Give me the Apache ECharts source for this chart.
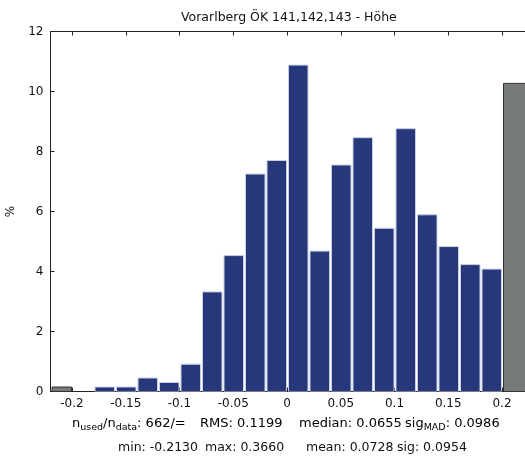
<!DOCTYPE html>
<html>
<head>
<meta charset="utf-8">
<script src="https://cdn.jsdelivr.net/npm/echarts@6/dist/echarts.min.js"></script>
<style>
  html, body { margin: 0; padding: 0; background: #fff; }
  #main { width: 525px; height: 457px; }
</style>
</head>
<body>
<div id="main"></div>
<script>
// Histogramm: linke Klassengrenzen und Anteile in %
var binLeft = [-0.18, -0.16, -0.14, -0.12, -0.10, -0.08, -0.06, -0.04, -0.02, 0.00,
               0.02, 0.04, 0.06, 0.08, 0.10, 0.12, 0.14, 0.16, 0.18];
var binRight = [-0.16, -0.14, -0.12, -0.10, -0.08, -0.06, -0.04, -0.02, 0.00, 0.02,
                0.04, 0.06, 0.08, 0.10, 0.12, 0.14, 0.16, 0.18, 0.20];
var percent = [0.15, 0.15, 0.45, 0.30, 0.91, 3.32, 4.53, 7.25, 7.70, 10.88,
               4.68, 7.55, 8.46, 5.44, 8.76, 5.89, 4.83, 4.23, 4.08];

// Ausreisser (grau) ausserhalb von +-0.2
var outLeft = [-0.22, 0.20];
var outRight = [-0.20, 0.24];
var outPercent = [0.15, 10.27];

var xTicks = [-0.2, -0.15, -0.1, -0.05, 0, 0.05, 0.1, 0.15, 0.2];
var yTicks = [0, 2, 4, 6, 8, 10, 12];

// Statistik unter der Achse
var statsLine1 = [
    '{n|n}{s|used}{n|/n}{s|data}{n|: 662/=}',
    '{n|RMS: 0.1199}',
    '{n|median: 0.0655}',
    '{n|sig}{s|MAD}{n|: 0.0986}'
];
var statsLine2 = ['min: -0.2130', 'max: 0.3660', 'mean: 0.0728', 'sig: 0.0954'];
var statsX1 = [72, 200, 299, 405];
var statsX2 = [118, 205, 306, 397];

var FONT = '"DejaVu Sans", sans-serif';

var myChart = echarts.init(document.getElementById('main'));

function makeData(lo, hi, val) {
    var d = [];
    for (var i = 0; i < lo.length; i++) {
        d.push([lo[i], hi[i], val[i]]);
    }
    return d;
}

function barRenderer(fill, stroke) {
    return function (params, api) {
        var p0 = api.coord([api.value(0), api.value(2)]);
        var p1 = api.coord([api.value(1), 0]);
        return {
            type: 'rect',
            shape: { x: p0[0] + 1.5, y: p0[1], width: p1[0] - p0[0] - 2, height: p1[1] - p0[1] },
            style: { fill: fill, stroke: stroke, lineWidth: 1 }
        };
    };
}

function fmtX(v) {
    var r = Math.round(v * 100) / 100;
    for (var i = 0; i < xTicks.length; i++) {
        if (Math.abs(xTicks[i] - r) < 1e-9) return String(xTicks[i]);
    }
    return '';
}

var rich = {
    n: { fontFamily: FONT, fontSize: 13, color: '#111', lineHeight: 16, verticalAlign: 'top' },
    s: { fontFamily: FONT, fontSize: 9.5, color: '#111', lineHeight: 16, verticalAlign: 'bottom', padding: [6, 0, 0, 0] }
};

var graphics = [];
for (var i = 0; i < statsLine1.length; i++) {
    graphics.push({ type: 'text', left: statsX1[i], top: 417, style: { text: statsLine1[i], rich: rich } });
}
for (var j = 0; j < statsLine2.length; j++) {
    graphics.push({ type: 'text', left: statsX2[j], top: 441, style: { text: statsLine2[j], font: '12.5px ' + FONT, fill: '#111' } });
}

myChart.setOption({
    animation: false,
    title: {
        text: 'Vorarlberg ÖK 141,142,143 - Höhe',
        left: 176,
        top: 6,
        textStyle: { fontFamily: FONT, fontSize: 12.5, fontWeight: 'normal', color: '#111' }
    },
    grid: { left: 50.5, top: 31.5, width: 494.5, bottom: 65.5, outerBoundsMode: 'none' },
    xAxis: [{
        type: 'value',
        min: -0.22,
        max: 0.24,
        interval: 0.01,
        axisLine: { onZero: false, lineStyle: { color: '#222', width: 1 } },
        axisTick: {
            inside: true, length: 4, lineStyle: { color: '#222' },
            customValues: xTicks
        },
        axisLabel: {
            customValues: xTicks,
            formatter: fmtX,
            margin: 6,
            fontFamily: FONT, fontSize: 12, color: '#111'
        },
        splitLine: { show: false }
    }, {
        type: 'value',
        position: 'top',
        min: -0.22,
        max: 0.24,
        interval: 0.01,
        axisLine: { show: true, onZero: false, lineStyle: { color: '#222', width: 1 } },
        axisTick: { inside: true, length: 4, lineStyle: { color: '#222' }, customValues: xTicks },
        axisLabel: { show: false },
        splitLine: { show: false }
    }],
    yAxis: {
        type: 'value',
        min: 0,
        max: 12,
        interval: 2,
        name: '%',
        nameLocation: 'middle',
        nameGap: 27,
        nameRotate: 90,
        nameTextStyle: { fontFamily: FONT, fontSize: 12, color: '#111' },
        axisLine: { show: true, onZero: false, lineStyle: { color: '#222', width: 1 } },
        axisTick: { show: true, inside: true, length: 4, lineStyle: { color: '#222' } },
        axisLabel: {
            margin: 7,
            fontFamily: FONT, fontSize: 12, color: '#111',
            formatter: function (v) { return yTicks.indexOf(v) >= 0 ? String(v) : ''; }
        },
        splitLine: { show: false }
    },
    series: [{
        type: 'custom',
        renderItem: barRenderer('#767a7b', '#333'),
        encode: { x: [0, 1], y: 2 },
        data: makeData(outLeft, outRight, outPercent),
        clip: true
    }, {
        type: 'custom',
        renderItem: barRenderer('#27387a', '#c9d0e6'),
        encode: { x: [0, 1], y: 2 },
        data: makeData(binLeft, binRight, percent),
        clip: true
    }],
    graphic: graphics
});
</script>
</body>
</html>
